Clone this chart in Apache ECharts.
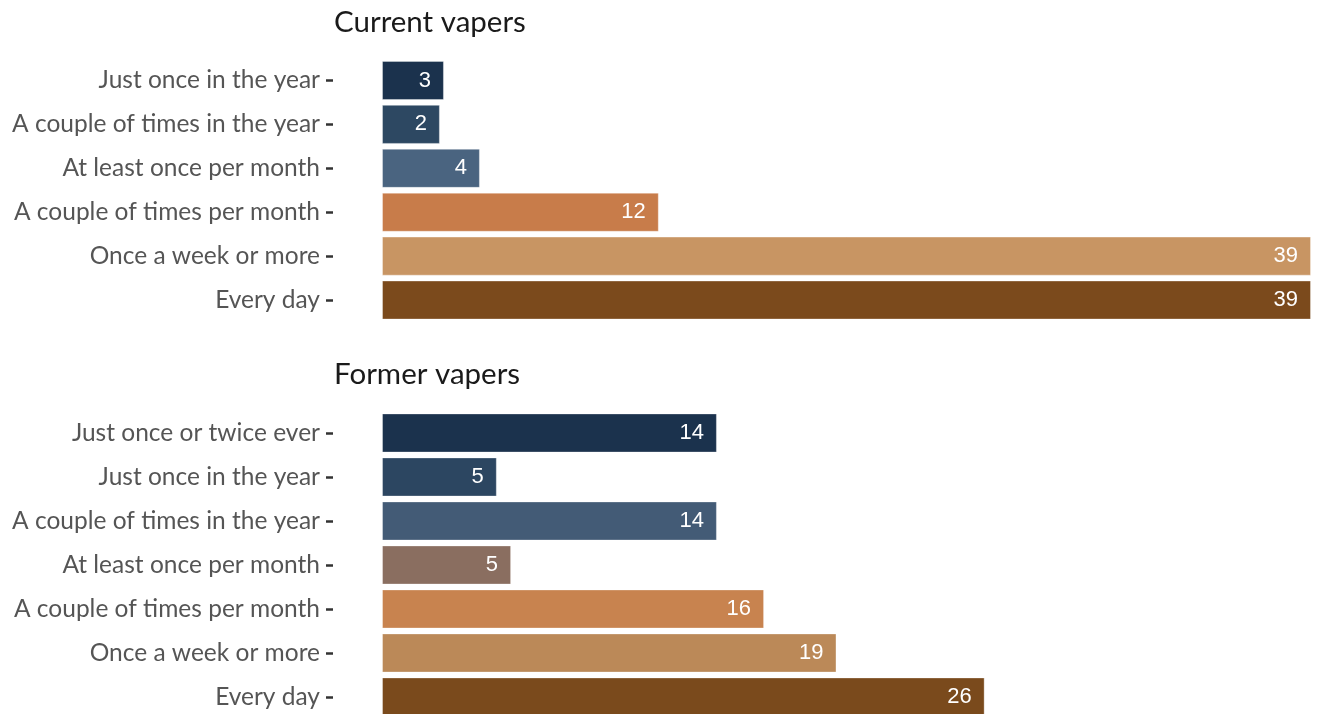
<!DOCTYPE html>
<html>
<head>
<meta charset="utf-8">
<script src="https://cdn.jsdelivr.net/npm/echarts@6/dist/echarts.min.js"></script>
<style>
html,body{margin:0;padding:0;background:#fff;}
#chart{width:1320px;height:714px;}
</style>
</head>
<body>
<div id="chart"></div>
<script>
const currentTitle = "Current vapers";
const formerTitle = "Former vapers";
const currentCategories = ["Just once in the year","A couple of times in the year","At least once per month","A couple of times per month","Once a week or more","Every day"];
const currentValues = [2.6, 2.43, 4.11, 11.62, 39.0, 39.0];
const currentLabels = ["3","2","4","12","39","39"];
const formerCategories = ["Just once or twice ever","Just once in the year","A couple of times in the year","At least once per month","A couple of times per month","Once a week or more","Every day"];
const formerValues = [14.06, 4.82, 14.06, 5.42, 16.04, 19.08, 25.3];
const formerLabels = ["14","5","14","5","16","19","26"];
const currentColors = ["#1b324d","#2d4862","#4a6480","#c87c4a","#c89563","#7b4a1c"];
const formerColors = ["#1b324d","#2c4661","#435b76","#8a6e60","#c8834f","#bb8958","#7a4a1c"];

const maxVal = Math.max(...currentValues, ...formerValues);
const chart = echarts.init(document.getElementById('chart'), null, {renderer:'canvas'});

function mkData(vals, cols){
  return vals.map((v,i)=>({value:v, itemStyle:{color:cols[i], borderColor:'rgba(255,255,255,0.35)', borderWidth:1}}));
}
const yAxisCommon = {
  type:'category', inverse:true, offset:49,
  axisLine:{show:false, onZero:false},
  axisTick:{show:true, alignWithLabel:true, length:7, lineStyle:{color:'#333', width:2.5}},
  axisLabel:{fontFamily:'Lato', fontSize:24.5, fontWeight:'normal', color:'#555555', margin:13},
  splitLine:{show:false}
};
const xAxisCommon = {type:'value', min:0, max:maxVal, show:false, splitLine:{show:false}};
function labelFor(arr){
  return {show:true, position:'insideRight', distance:13, color:'#fff', fontSize:22, fontFamily:'Liberation Sans', formatter:p=>arr[p.dataIndex]};
}

chart.setOption({
  animation:false,
  title:[
    {text:currentTitle, left:329, top:2, textStyle:{fontFamily:'Lato', fontSize:29.5, fontWeight:'normal', color:'#1a1a1a'}},
    {text:formerTitle, left:329, top:354, textStyle:{fontFamily:'Lato', fontSize:29.5, fontWeight:'normal', color:'#1a1a1a'}}
  ],
  grid:[
    {left:382, top:58.5, width:929, height:263.5, containLabel:false, outerBoundsMode:'none'},
    {left:382, top:411, width:929, height:308, containLabel:false, outerBoundsMode:'none'}
  ],
  xAxis:[Object.assign({gridIndex:0}, xAxisCommon), Object.assign({gridIndex:1}, xAxisCommon)],
  yAxis:[Object.assign({gridIndex:0, data:currentCategories}, yAxisCommon), Object.assign({gridIndex:1, data:formerCategories}, yAxisCommon)],
  series:[
    {type:'bar', xAxisIndex:0, yAxisIndex:0, barCategoryGap:'11%', data:mkData(currentValues,currentColors), label:labelFor(currentLabels)},
    {type:'bar', xAxisIndex:1, yAxisIndex:1, barCategoryGap:'11%', data:mkData(formerValues,formerColors), label:labelFor(formerLabels)}
  ]
});
</script>
</body>
</html>
